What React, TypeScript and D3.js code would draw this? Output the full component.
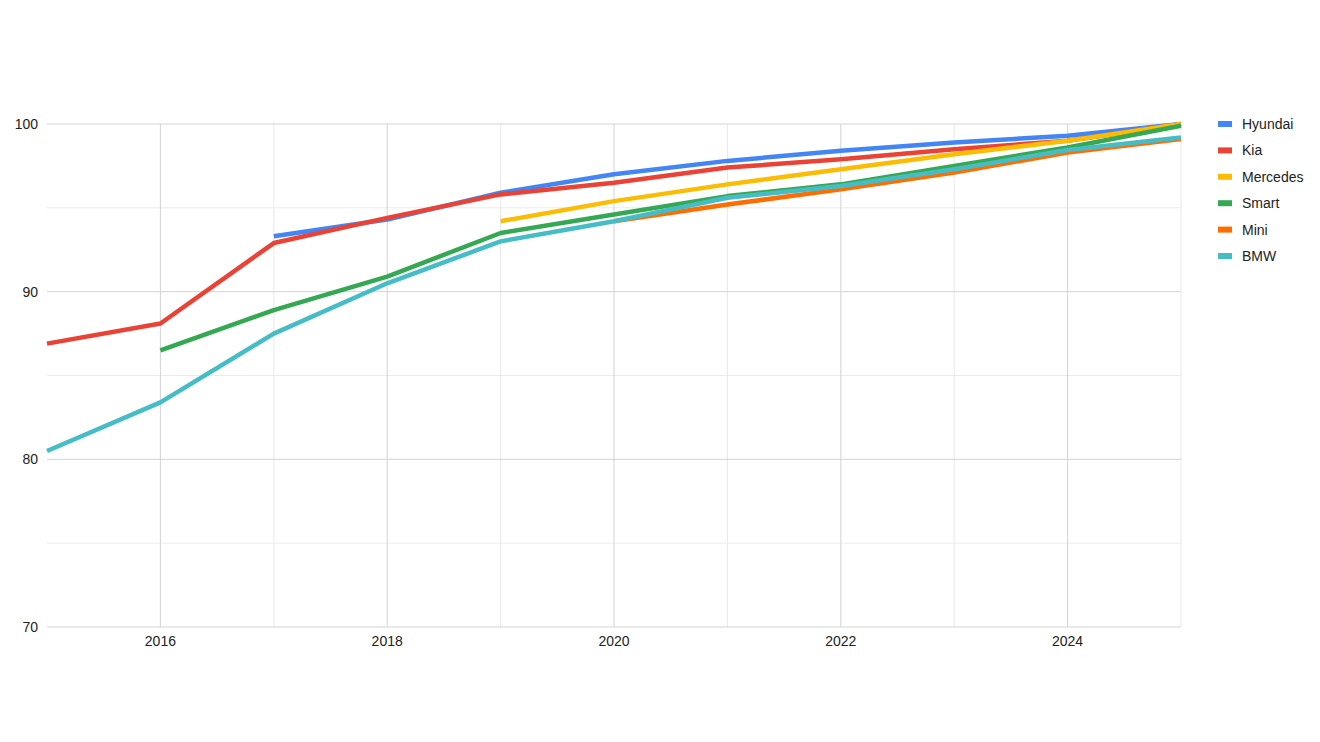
import React, { useRef, useEffect } from 'react';
import * as d3 from 'd3';

const years = [2015, 2016, 2017, 2018, 2019, 2020, 2021, 2022, 2023, 2024, 2025];
const seriesNames = ['Hyundai', 'Kia', 'Mercedes', 'Smart', 'Mini', 'BMW'];
const seriesColors = ['#4285F4', '#EA4335', '#FBBC04', '#34A853', '#FF6D01', '#46BDC6'];

const hyundai = [null, null, 93.3, 94.3, 95.9, 97.0, 97.8, 98.4, 98.9, 99.3, 100];
const kia = [86.9, 88.1, 92.9, 94.4, 95.8, 96.5, 97.4, 97.9, 98.5, 99.0, 100];
const mercedes = [null, null, null, null, 94.2, 95.4, 96.4, 97.3, 98.2, 99.0, 100];
const smart = [null, 86.5, 88.9, 90.9, 93.5, 94.6, 95.7, 96.4, 97.5, 98.6, 99.9];
const mini = [null, null, null, null, null, 94.2, 95.2, 96.1, 97.1, 98.3, 99.1];
const bmw = [80.5, 83.4, 87.5, 90.5, 93.0, 94.2, 95.6, 96.3, 97.3, 98.45, 99.2];

const allSeries = [hyundai, kia, mercedes, smart, mini, bmw];
const yMajorTicks = [70, 80, 90, 100];
const yMinorTicks = [75, 85, 95];
const xLabelYears = [2016, 2018, 2020, 2022, 2024];

export default function App() {
  const svgRef = useRef<SVGSVGElement>(null);

  useEffect(() => {
    if (!svgRef.current) return;
    const svg = d3.select(svgRef.current);
    svg.selectAll('*').remove();

    const width = 1320;
    const height = 742;
    const font = 'Arial, "Liberation Sans", sans-serif';

    const x = d3.scaleLinear().domain([2015, 2025]).range([47, 1181]);
    const y = d3.scaleLinear().domain([70, 100]).range([627, 124]);

    svg.append('rect').attr('width', width).attr('height', height).attr('fill', '#fff');

    // 横グリッド（補助線）
    svg.append('g').selectAll('line').data(yMinorTicks).join('line')
      .attr('x1', x(2015)).attr('x2', x(2025))
      .attr('y1', (d) => y(d)).attr('y2', (d) => y(d))
      .attr('stroke', '#ebebeb').attr('stroke-width', 1);

    // 縦グリッド
    svg.append('g').selectAll('line').data(years.slice(1)).join('line')
      .attr('x1', (d) => x(d)).attr('x2', (d) => x(d))
      .attr('y1', y(100)).attr('y2', y(70))
      .attr('stroke', (d) => (d % 2 === 0 ? '#d3d3d3' : '#e8e8e8')).attr('stroke-width', 1);

    // 横グリッド（主線）
    svg.append('g').selectAll('line').data(yMajorTicks).join('line')
      .attr('x1', x(2015)).attr('x2', x(2025))
      .attr('y1', (d) => y(d)).attr('y2', (d) => y(d))
      .attr('stroke', '#d3d3d3').attr('stroke-width', 1);

    // y軸ラベル
    svg.append('g').selectAll('text').data(yMajorTicks).join('text')
      .attr('x', 38).attr('y', (d) => y(d)).attr('dy', '0.35em')
      .attr('text-anchor', 'end')
      .attr('font-family', font).attr('font-size', 14).attr('fill', '#222')
      .text((d) => d);

    // x軸ラベル
    svg.append('g').selectAll('text').data(xLabelYears).join('text')
      .attr('x', (d) => x(d)).attr('y', 646)
      .attr('text-anchor', 'middle')
      .attr('font-family', font).attr('font-size', 14).attr('fill', '#222')
      .text((d) => d);

    // 折れ線
    const line = d3.line<number | null>()
      .defined((d) => d !== null)
      .x((_, i) => x(years[i]))
      .y((d) => y(d as number));

    allSeries.forEach((vals, i) => {
      svg.append('path')
        .datum(vals)
        .attr('d', line)
        .attr('fill', 'none')
        .attr('stroke', seriesColors[i])
        .attr('stroke-width', 4.5)
        .attr('stroke-linejoin', 'round');
    });

    // 凡例
    const legend = svg.append('g').attr('transform', 'translate(1218, 124)');
    const items = legend.selectAll('g').data(seriesNames).join('g')
      .attr('transform', (_, i) => `translate(0, ${i * 26.4})`);
    items.append('rect')
      .attr('x', 0).attr('y', -3).attr('width', 14).attr('height', 6)
      .attr('fill', (_, i) => seriesColors[i]);
    items.append('text')
      .attr('x', 24).attr('y', 0).attr('dy', '0.35em')
      .attr('font-family', font).attr('font-size', 14).attr('fill', '#222')
      .text((d) => d);
  }, []);

  return (
    <svg
      ref={svgRef}
      width={1320}
      height={742}
      style={{ position: 'absolute', left: 0, top: 0, display: 'block' }}
    />
  );
}
